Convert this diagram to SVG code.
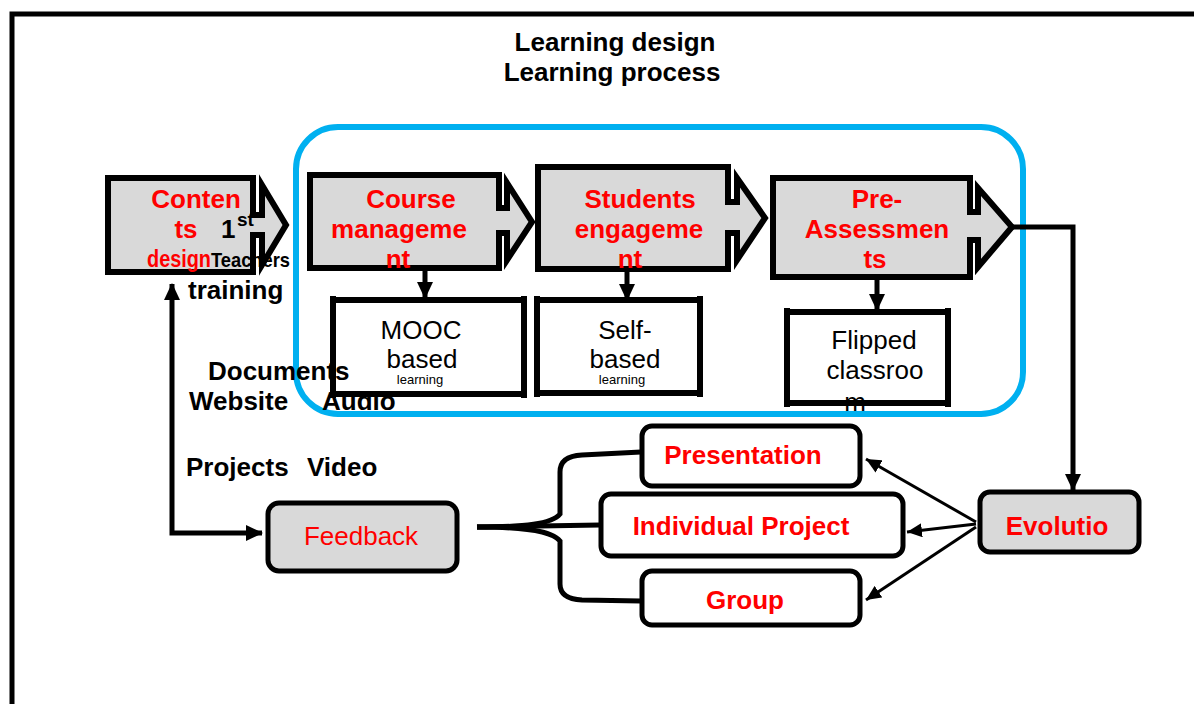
<svg xmlns="http://www.w3.org/2000/svg" width="1194" height="704" viewBox="0 0 1194 704">
<defs>
<marker id="ah" markerUnits="userSpaceOnUse" markerWidth="18" markerHeight="18" viewBox="0 0 18 18" refX="16" refY="9" orient="auto-start-reverse">
<path d="M0,1 L17,9 L0,17 Z" fill="#000"/>
</marker>
<marker id="ahs" markerUnits="userSpaceOnUse" markerWidth="16" markerHeight="14" viewBox="0 0 16 14" refX="15" refY="7" orient="auto">
<path d="M0,0 L15,7 L0,14 Z" fill="#000"/>
</marker>
</defs>
<style>
.b{font-family:"Liberation Sans",Arial,sans-serif;font-weight:bold;font-size:26px;fill:#000}
.n{font-family:"Liberation Sans",Arial,sans-serif;font-size:26px;fill:#000}
.r{fill:#ff0000}
.sm{font-size:13px}
.proc{fill:#d9d9d9;stroke:#000;stroke-width:6;stroke-linejoin:miter}
.sub{fill:#fff;stroke:none}
.subl{stroke:#000;stroke-width:6;fill:none}
.rb{fill:#fff;stroke:#000;stroke-width:5}
.gb{fill:#d9d9d9;stroke:#000;stroke-width:5}
.c{fill:none;stroke:#000;stroke-width:5}
.t{fill:none;stroke:#000;stroke-width:3}
.mid{text-anchor:middle}
</style>
<rect width="1194" height="704" fill="#fff"/>
<!-- frame -->
<path d="M12,704 V14 H1194" fill="none" stroke="#000" stroke-width="5"/>
<!-- title -->
<text class="b mid" x="615" y="51">Learning design</text>
<text class="b mid" x="612" y="81">Learning process</text>
<!-- blue container -->
<rect x="296" y="127" width="727" height="287" rx="42" fill="none" stroke="#00b0f0" stroke-width="6"/>
<!-- connectors -->
<g id="connectors">
<path class="c" d="M172,284 V533 H262" marker-start="url(#ah)" marker-end="url(#ah)"/>
<path class="c" d="M425,268 V298" marker-end="url(#ah)"/>
<path class="c" d="M627,269 V300" marker-end="url(#ah)"/>
<path class="c" d="M877,277 V310" marker-end="url(#ah)"/>
<path class="c" d="M1012,227 H1073 V490" marker-end="url(#ah)"/>
<path class="c" d="M477,527 C525,527 552,524 560,514 V472 Q560,456 582,455 L641,452"/>
<path class="c" d="M477,527 L600,525"/>
<path class="c" d="M477,527 C525,527 552,531 560,541 V584 Q560,599 582,600 L641,601"/>
<path class="t" d="M976,522 L866,459" marker-end="url(#ahs)"/>
<path class="t" d="M976,524 L907,532" marker-end="url(#ahs)"/>
<path class="t" d="M976,527 L866,600" marker-end="url(#ahs)"/>
</g>
<!-- Contents -->
<g id="contents">
<path class="proc" d="M108,178 H253 V215 H262 V185 L286,225 L262,265 V235 H253 V272 H108 Z"/>
<text class="b r" x="196" y="208" text-anchor="middle">Conten</text>
<text class="b r" x="186" y="238" text-anchor="middle">ts</text>
<text class="b" x="221" y="238">1</text>
<text class="b" x="237" y="226" style="font-size:19px">st</text>
<text class="b r" x="147" y="267" style="font-size:23px" textLength="64" lengthAdjust="spacingAndGlyphs">design</text>
<text class="n" x="211" y="267" style="font-size:21px;font-weight:bold" textLength="79" lengthAdjust="spacingAndGlyphs">Teachers</text>
</g>
<!-- Course management -->
<g id="course">
<path class="proc" d="M310,175 H499 V208 H507 V183 L532,222 L507,260 V233 H499 V268 H310 Z"/>
<text class="b r" x="411" y="208" text-anchor="middle">Course</text>
<text class="b r" x="399" y="238" text-anchor="middle">manageme</text>
<text class="b r" x="398" y="268" text-anchor="middle">nt</text>
</g>
<!-- Students engagement -->
<g id="students">
<path class="proc" d="M538,167 H728 V202 H737 V178 L765,218 L737,260 V233 H728 V269 H538 Z"/>
<text class="b r" x="640" y="208" text-anchor="middle">Students</text>
<text class="b r" x="639" y="238" text-anchor="middle">engageme</text>
<text class="b r" x="630" y="268" text-anchor="middle">nt</text>
</g>
<!-- Pre-Assessments -->
<g id="pre">
<path class="proc" d="M773,178 H970 V212 H978 V188 L1012,227 L978,267 V240 H970 V277 H773 Z"/>
<text class="b r" x="877" y="208" text-anchor="middle">Pre-</text>
<text class="b r" x="877" y="238" text-anchor="middle">Assessmen</text>
<text class="b r" x="875" y="268" text-anchor="middle">ts</text>
</g>
<!-- MOOC -->
<g id="mooc">
<rect class="sub" x="333" y="300" width="191" height="94"/>
<text class="n mid" x="421" y="339">MOOC</text>
<text class="n mid" x="422" y="368">based</text>
<text class="n mid sm" x="420" y="384">learning</text>
<path class="subl" d="M330,300 H527 M330,394 H527 M333,296 V398 M524,296 V398"/>
</g>
<!-- Self-based -->
<g id="self">
<rect class="sub" x="537" y="300" width="163" height="93"/>
<text class="n mid" x="625" y="339">Self-</text>
<text class="n mid" x="625" y="368">based</text>
<text class="n mid sm" x="622" y="384">learning</text>
<path class="subl" d="M534,300 H703 M534,393 H703 M537,296 V397 M700,296 V397"/>
</g>
<!-- Flipped classroom -->
<g id="flipped">
<rect class="sub" x="787" y="312" width="161" height="91"/>
<text class="n mid" x="874" y="349">Flipped</text>
<text class="n mid" x="875" y="379">classroo</text>
<text class="n mid" x="855" y="411">m</text>
<path class="subl" d="M784,312 H951 M784,403 H951 M787,308 V407 M948,308 V407"/>
</g>
<!-- Feedback -->
<g id="feedback">
<rect class="gb" x="268" y="503" width="189" height="68" rx="11"/>
<text class="n r mid" x="361" y="545">Feedback</text>
</g>
<!-- Presentation -->
<g id="presentation">
<rect class="rb" x="642" y="426" width="218" height="60" rx="10"/>
<text class="b r mid" x="743" y="464">Presentation</text>
</g>
<!-- Individual Project -->
<g id="individual">
<rect class="rb" x="601" y="494" width="302" height="62" rx="10"/>
<text class="b r mid" x="741" y="535">Individual Project</text>
</g>
<!-- Group -->
<g id="group">
<rect class="rb" x="642" y="571" width="218" height="54" rx="10"/>
<text class="b r mid" x="745" y="609">Group</text>
</g>
<!-- Evolutio -->
<g id="evolutio">
<rect class="gb" x="980" y="492" width="159" height="60" rx="10"/>
<text class="b r mid" x="1057" y="535">Evolutio</text>
</g>
<!-- loose labels -->
<g id="labels">
<text class="b" x="188" y="299">training</text>
<text class="b" x="208" y="380">Documents</text>
<text class="b" x="189" y="410">Website</text>
<text class="b" x="322" y="410">Audio</text>
<text class="b" x="186" y="476">Projects</text>
<text class="b" x="307" y="476">Video</text>
</g>
</svg>
